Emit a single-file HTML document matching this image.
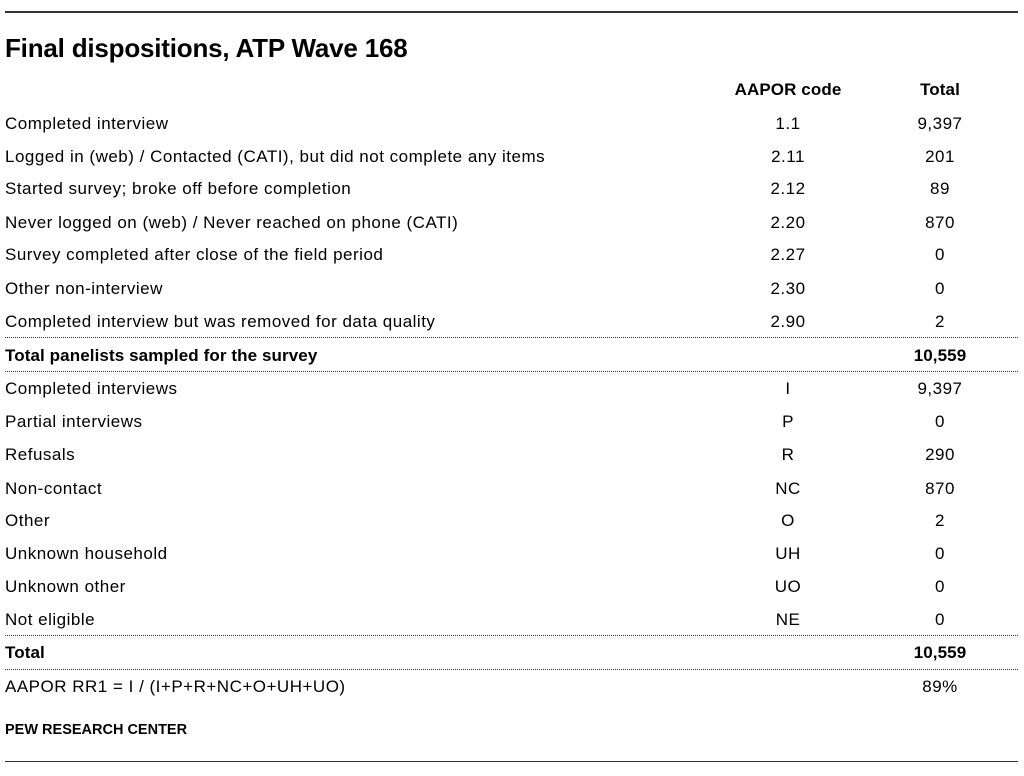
<!DOCTYPE html>
<html><head><style>
body{margin:0;width:1024px;height:776px;background:#fff;font-family:"Liberation Sans",Arial,sans-serif;color:#000;position:relative;overflow:hidden}
.r{position:absolute;left:5px;width:1013px;height:24px;font-size:17px;line-height:24px;letter-spacing:0.5px}
.r span{position:absolute;top:0}
.l{left:0}
.c{left:723px;width:120px;text-align:center}
.t{left:875px;width:120px;text-align:center}
.b{font-weight:bold;letter-spacing:0.1px}
.d{position:absolute;left:5px;width:1013px;border-top:1px dotted #333;height:0}
.s{position:absolute;left:5px;width:1013px;height:2px;background:#333}
</style></head><body>
<div class="s" style="top:11px"></div>
<div style="position:absolute;left:5px;top:33px;font-size:26px;font-weight:bold;letter-spacing:-0.2px">Final dispositions, ATP Wave 168</div>
<div class="r b" style="top:78px"><span class="c">AAPOR code</span><span class="t">Total</span></div>
<div class="r" style="top:112px"><span class="l">Completed interview</span><span class="c">1.1</span><span class="t">9,397</span></div>
<div class="r" style="top:145px"><span class="l">Logged in (web) / Contacted (CATI), but did not complete any items</span><span class="c">2.11</span><span class="t">201</span></div>
<div class="r" style="top:177px"><span class="l">Started survey; broke off before completion</span><span class="c">2.12</span><span class="t">89</span></div>
<div class="r" style="top:211px"><span class="l">Never logged on (web) / Never reached on phone (CATI)</span><span class="c">2.20</span><span class="t">870</span></div>
<div class="r" style="top:243px"><span class="l">Survey completed after close of the field period</span><span class="c">2.27</span><span class="t">0</span></div>
<div class="r" style="top:277px"><span class="l">Other non-interview</span><span class="c">2.30</span><span class="t">0</span></div>
<div class="r" style="top:310px"><span class="l">Completed interview but was removed for data quality</span><span class="c">2.90</span><span class="t">2</span></div>
<div class="d" style="top:337px"></div>
<div class="r b" style="top:344px"><span class="l">Total panelists sampled for the survey</span><span class="t">10,559</span></div>
<div class="d" style="top:371px"></div>
<div class="r" style="top:377px"><span class="l">Completed interviews</span><span class="c">I</span><span class="t">9,397</span></div>
<div class="r" style="top:410px"><span class="l">Partial interviews</span><span class="c">P</span><span class="t">0</span></div>
<div class="r" style="top:443px"><span class="l">Refusals</span><span class="c">R</span><span class="t">290</span></div>
<div class="r" style="top:477px"><span class="l">Non-contact</span><span class="c">NC</span><span class="t">870</span></div>
<div class="r" style="top:509px"><span class="l">Other</span><span class="c">O</span><span class="t">2</span></div>
<div class="r" style="top:542px"><span class="l">Unknown household</span><span class="c">UH</span><span class="t">0</span></div>
<div class="r" style="top:575px"><span class="l">Unknown other</span><span class="c">UO</span><span class="t">0</span></div>
<div class="r" style="top:608px"><span class="l">Not eligible</span><span class="c">NE</span><span class="t">0</span></div>
<div class="d" style="top:635px"></div>
<div class="r b" style="top:641px"><span class="l">Total</span><span class="t">10,559</span></div>
<div class="d" style="top:669px"></div>
<div class="r" style="top:675px"><span class="l">AAPOR RR1 = I / (I+P+R+NC+O+UH+UO)</span><span class="t">89%</span></div>
<div style="position:absolute;left:5px;top:722px;font-size:14.5px;font-weight:bold">PEW RESEARCH CENTER</div>
<div class="s" style="top:761px;height:1px"></div>
</body></html>
